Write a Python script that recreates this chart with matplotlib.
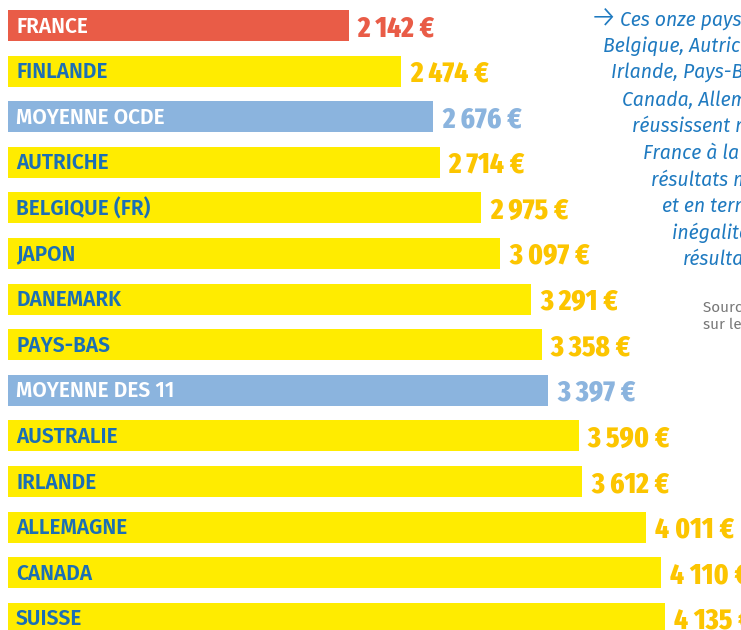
import matplotlib
matplotlib.use("Agg")
import matplotlib.pyplot as plt

# ===== Data =====
countries = ["FRANCE", "FINLANDE", "MOYENNE OCDE", "AUTRICHE", "BELGIQUE (FR)",
             "JAPON", "DANEMARK", "PAYS-BAS", "MOYENNE DES 11", "AUSTRALIE",
             "IRLANDE", "ALLEMAGNE", "CANADA", "SUISSE"]
values = [2142, 2474, 2676, 2714, 2975, 3097, 3291, 3358, 3397, 3590, 3612,
          4011, 4110, 4135]
kinds = ["fr", "c", "avg", "c", "c", "c", "c", "c", "avg", "c", "c", "c", "c", "c"]

note_lines = [
    "Ces onze pays (Finlande,",
    "Belgique, Autriche, Japon,",
    "Irlande, Pays-Bas, Danemark,",
    "Canada, Allemagne, Suisse)",
    "réussissent mieux que la",
    "France à la fois en termes de",
    "résultats moyens",
    "et en termes",
    "inégalités de",
    "résultats.",
]
source_lines = ["Source : OCDE, calculs", "sur les données PISA"]

# ===== Styles =====
RED = "#E95C47"
YELLOW = "#FFEC00"
BLUE_BAR = "#8BB4DE"
GOLD = "#FCC500"
TXT_BLUE = "#1B6FB5"
NOTE_BLUE = "#1F7AC0"

bar_col = {"fr": RED, "c": YELLOW, "avg": BLUE_BAR}
lab_col = {"fr": "white", "c": TXT_BLUE, "avg": "white"}
val_col = {"fr": RED, "c": GOLD, "avg": BLUE_BAR}

W, H = 741, 630
fig = plt.figure(figsize=(W / 100, H / 100), dpi=100)
ax = fig.add_axes([0, 0, 1, 1])

pitch = 45.6
first = 25.5
px_per_eur = 0.159
zero_px = 8

ypos = list(range(len(countries)))
ax.barh(ypos, values, height=31 / pitch,
        color=[bar_col[k] for k in kinds], edgecolor="none")

ax.set_ylim((H - first) / pitch, -first / pitch)
ax.set_xlim(-zero_px / px_per_eur, (W - zero_px) / px_per_eur)
ax.axis("off")

for i, (name, v, k) in enumerate(zip(countries, values, kinds)):
    ax.annotate(name, (0, i), xytext=(8, -1), textcoords="offset pixels",
                ha="left", va="center", fontsize=15, fontweight=600,
                family="Fira Sans", color=lab_col[k])
    txt = f"{v // 1000}\u2009{v % 1000:03d}\u2009€"
    ax.annotate(txt, (v, i), xytext=(9, -3), textcoords="offset pixels",
                ha="left", va="center", fontsize=21, fontweight=800,
                family=["Fira Sans Extra Condensed", "DejaVu Sans"],
                color=val_col[k])

# ===== Side note (clipped at the right edge) =====
fig.text(590 / W, 1 - 19 / H, "\u2192", ha="left", va="center", fontsize=22,
         fontweight=300, color=NOTE_BLUE, family=["Fira Sans", "DejaVu Sans"])
note_x = [620, 603, 611, 622, 632, 643, 651, 662, 672, 683]
for j, (line, x) in enumerate(zip(note_lines, note_x)):
    fig.text(x / W, 1 - (19 + 26.7 * j) / H, line, ha="left", va="center",
             fontsize=14, style="italic", color=NOTE_BLUE,
             family=["Fira Sans", "DejaVu Sans"])

for j, line in enumerate(source_lines):
    fig.text(703 / W, 1 - (308 + 17 * j) / H, line, ha="left", va="center",
             fontsize=11, color="#777777", family="Fira Sans")

fig.savefig("out.png", dpi=100)
